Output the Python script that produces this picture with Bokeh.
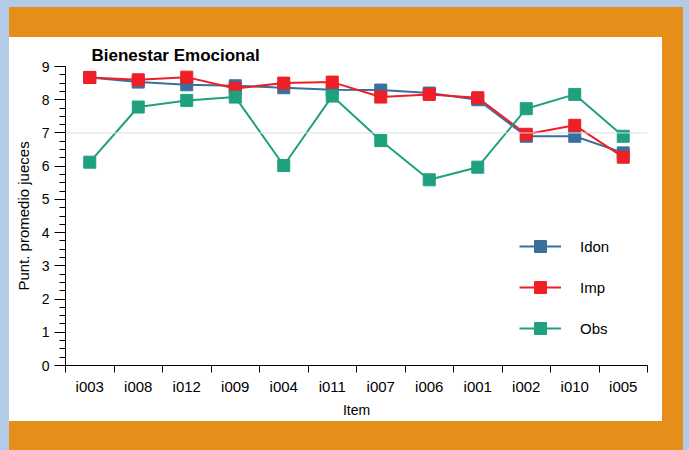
from bokeh.plotting import figure
from bokeh.models import (Range1d, FixedTicker, SingleIntervalTicker, Span, Legend,
                          LegendItem, Spacer)
from bokeh.layouts import column, row
from bokeh.embed import file_html
from bokeh.resources import INLINE

items = ["i003", "i008", "i012", "i009", "i004", "i011", "i007", "i006", "i001", "i002", "i010", "i005"]
idon = [8.67, 8.53, 8.45, 8.42, 8.36, 8.30, 8.29, 8.20, 8.00, 6.90, 6.90, 6.40]
imp = [8.67, 8.60, 8.68, 8.34, 8.50, 8.53, 8.08, 8.16, 8.06, 6.96, 7.23, 6.27]
obs = [6.12, 7.78, 7.98, 8.08, 6.02, 8.11, 6.77, 5.59, 5.97, 7.73, 8.16, 6.90]
series_names = ["Idon", "Imp", "Obs"]
y_ticks_max = 9

ORANGE = "#e58e1a"
BLUE_BG = "#b4cbe8"
COLORS = ["#3a6f9d", "#ee1f26", "#1fa07f"]
FONT = "Liberation Sans"

xs = list(range(len(items)))

fig = figure(width=653, height=384, output_backend="svg", toolbar_location=None, tools="",
             x_range=Range1d(-0.5, len(items) - 0.5), y_range=Range1d(0, y_ticks_max),
             min_border_left=56, min_border_right=15, min_border_top=29, min_border_bottom=56,
             border_fill_color="white", background_fill_color="white",
             outline_line_color=None, styles={"background-color": "white"})
fig.xgrid.visible = False
fig.ygrid.visible = False

fig.title.text = "Bienestar Emocional"
fig.title.text_font = FONT
fig.title.text_font_size = "17px"
fig.title.text_font_style = "bold"
fig.title.text_color = "black"
fig.title.offset = 26
fig.title.standoff = 4
fig.title.text_line_height = 0.7

fig.add_layout(Span(location=7, dimension="width", line_color="#dcdcdc", line_width=1))

renderers = []
for vals, col in zip([idon, imp, obs], COLORS):
    ln = fig.line(xs, vals, line_color=col, line_width=2)
    sc = fig.scatter(xs, vals, marker="square", size=12, fill_color=col, line_color=col)
    renderers.append([ln, sc])

# x axis
xa = fig.xaxis[0]
xa.ticker = FixedTicker(ticks=xs, minor_ticks=[i - 0.5 for i in range(len(items) + 1)])
xa.major_label_overrides = {i: name for i, name in enumerate(items)}
xa.major_tick_out = 0
xa.major_tick_in = 0
xa.minor_tick_out = 7
xa.minor_tick_in = 0
xa.minor_tick_line_color = "black"
xa.major_label_standoff = 5
xa.major_label_text_font = FONT
xa.major_label_text_font_size = "15px"
xa.major_label_text_color = "black"
xa.axis_label = "Item"
xa.axis_label_text_font = FONT
xa.axis_label_text_font_size = "14px"
xa.axis_label_text_font_style = "normal"
xa.axis_label_text_color = "black"
xa.axis_label_standoff = 4
xa.axis_line_color = "black"

# y axis
ya = fig.yaxis[0]
ya.ticker = SingleIntervalTicker(interval=1, num_minor_ticks=4)
ya.major_tick_out = 11
ya.major_tick_in = 0
ya.minor_tick_out = 6
ya.minor_tick_in = 0
ya.minor_tick_line_color = "black"
ya.major_label_standoff = 5
ya.major_label_text_font = FONT
ya.major_label_text_font_size = "14px"
ya.major_label_text_color = "black"
ya.axis_label = "Punt. promedio jueces"
ya.axis_label_text_font = FONT
ya.axis_label_text_font_size = "15px"
ya.axis_label_text_font_style = "normal"
ya.axis_label_text_color = "black"
ya.axis_label_standoff = 7
ya.axis_line_color = "black"

legend = Legend(items=[LegendItem(label=n, renderers=r) for n, r in zip(series_names, renderers)],
                location=(454, 22), orientation="vertical",
                glyph_width=42, glyph_height=30, label_height=30, spacing=11,
                label_standoff=19, padding=0, margin=0,
                label_text_font=FONT, label_text_font_size="15px", label_text_color="black",
                border_line_color=None, background_fill_alpha=0)
fig.add_layout(legend)

orange_block = column(
    Spacer(width=674, height=30),
    row(column(fig, styles={"background-color": "white"}), Spacer(width=21, height=384)),
    Spacer(width=674, height=29),
    styles={"background-color": ORANGE},
)

p = column(
    Spacer(width=689, height=7),
    row(Spacer(width=9, height=443), orange_block, Spacer(width=6, height=443)),
    styles={"background-color": BLUE_BG},
)

open("out.html", "w").write(file_html(p, INLINE))
